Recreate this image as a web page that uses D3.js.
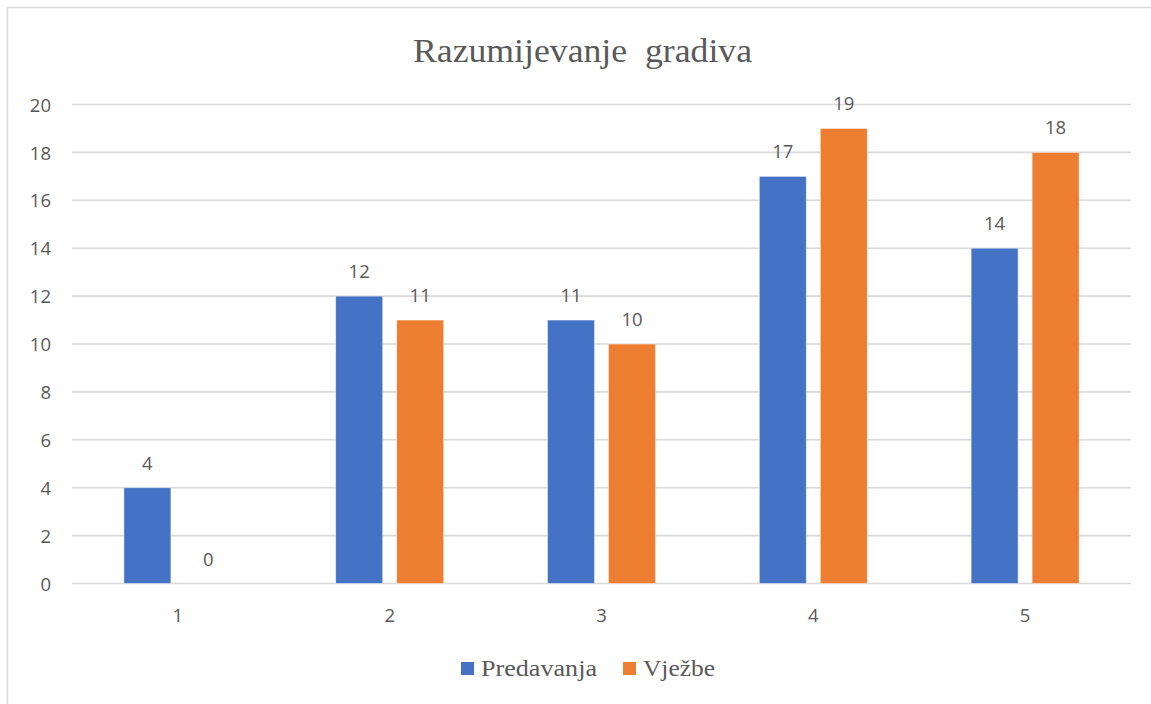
<!DOCTYPE html>
<html><head><meta charset="utf-8">
<script src="https://cdn.jsdelivr.net/npm/d3@7"></script>
<style>body{margin:0;background:#fff}svg{display:block}</style>
</head><body>
<svg id="c" width="1151" height="704"></svg>
<script>
const categories = ["1","2","3","4","5"];
const seriesNames = ["Predavanja","Vježbe"];
const predavanja = [4,12,11,17,14];
const vjezbe = [0,11,10,19,18];
const yTicks = [0,2,4,6,8,10,12,14,16,18,20];
const colors = ["#4472C4","#ED7D31"];
const title = "Razumijevanje  gradiva";

(function(){
const svg = d3.select("#c");
const W = 1151, H = 704;
const sans = "'Open Sans', 'Liberation Sans', sans-serif";
const serif = "'Liberation Serif', serif";
svg.append("rect").attr("x",7.5).attr("y",7.5).attr("width",W).attr("height",H)
  .attr("fill","#fff").attr("stroke","#d9d9d9").attr("stroke-width",1.5);

const pLeft = 72, pRight = 1131, pTop = 104.5, pBottom = 583.5;
const x = d3.scaleBand().domain(categories).range([pLeft,pRight]).paddingInner(0).paddingOuter(0);
const y = d3.scaleLinear().domain([0,20]).range([pBottom,pTop]);

const grid = svg.append("g");
grid.selectAll("line").data(yTicks).join("line")
  .attr("x1",pLeft).attr("x2",pRight)
  .attr("y1",d=>y(d)).attr("y2",d=>y(d))
  .attr("stroke","#d9d9d9").attr("stroke-width",1.6);

const yAxis = d3.axisLeft(y).tickValues(yTicks).tickSize(0).tickPadding(0);
const ga = svg.append("g").attr("transform",`translate(51,0)`).call(yAxis);
ga.select(".domain").remove();
ga.selectAll("text").attr("font-family",sans)
  .attr("font-size",18.5).attr("fill","#595959").attr("dy","0.36em");

const xAxis = d3.axisBottom(x).tickSize(0).tickPadding(0);
const gx = svg.append("g").attr("transform",`translate(0,${pBottom+38.5})`).call(xAxis);
gx.select(".domain").remove();
gx.selectAll("text").attr("font-family",sans)
  .attr("font-size",18.5).attr("fill","#595959").attr("dy","0");

const barW = 47, gap = 14;
const data = [predavanja, vjezbe];
const xs = d3.scaleBand().domain(seriesNames).range([0,barW*2+gap]).paddingInner(gap/(barW+gap)).paddingOuter(0);
const groupOffset = (x.bandwidth() - (barW*2+gap))/2;

seriesNames.forEach((s,si)=>{
  const g = svg.append("g");
  g.selectAll("rect").data(categories).join("rect")
    .attr("x",(c)=>x(c)+groupOffset+xs(s))
    .attr("y",(c,i)=>y(data[si][i]))
    .attr("width",xs.bandwidth())
    .attr("height",(c,i)=>y(0)-y(data[si][i]))
    .attr("fill",colors[si]).attr("stroke","#fff").attr("stroke-width",0.8).attr("stroke-opacity",0.6);
  g.selectAll("text").data(categories).join("text")
    .attr("x",(c)=>x(c)+groupOffset+xs(s)+xs.bandwidth()/2)
    .attr("y",(c,i)=>y(data[si][i])-18)
    .attr("text-anchor","middle")
    .attr("font-family",sans)
    .attr("font-size",18.5).attr("fill","#595959")
    .text((c,i)=>data[si][i]);
});

svg.append("text").attr("x",413).attr("y",62)
  .attr("font-family",serif).attr("textLength",339).attr("lengthAdjust","spacingAndGlyphs")
  .attr("font-size",34).attr("fill","#595959").style("white-space","pre")
  .text(title);

const legend = svg.append("g");
const lx = [461, 623];
const lw = [116, 72];
seriesNames.forEach((s,i)=>{
  legend.append("rect").attr("x",lx[i]).attr("y",662).attr("width",13).attr("height",13).attr("fill",colors[i]);
  legend.append("text").attr("x",lx[i]+20).attr("y",676)
    .attr("textLength",lw[i]).attr("lengthAdjust","spacingAndGlyphs")
    .attr("font-family",serif).attr("font-size",24).attr("fill","#595959").text(s);
});
})();
</script>
</body></html>
